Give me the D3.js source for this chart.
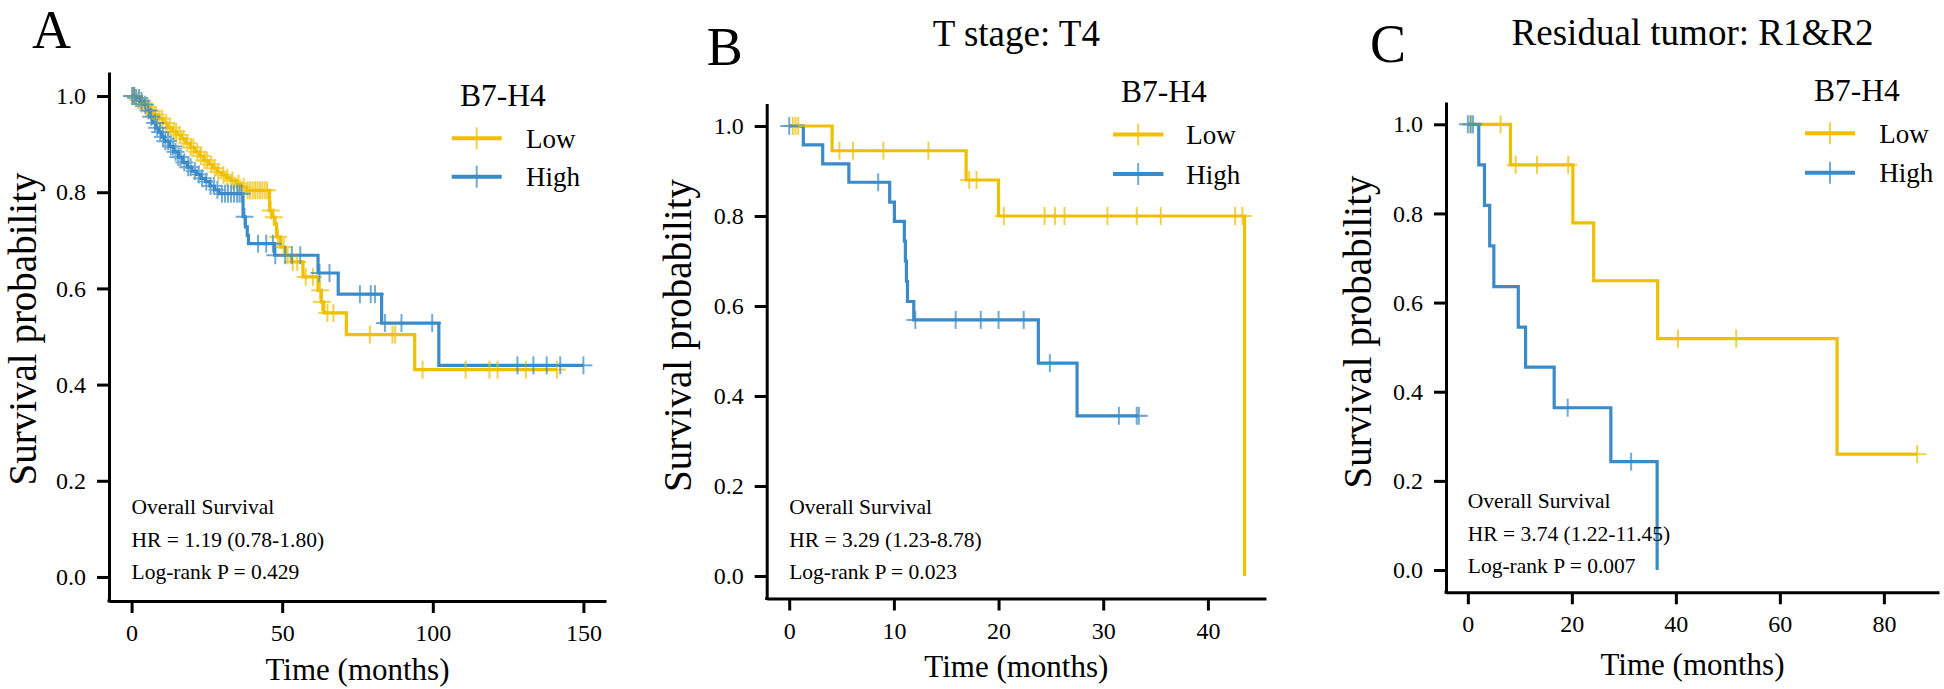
<!DOCTYPE html>
<html><head><meta charset="utf-8">
<script src="https://cdn.jsdelivr.net/npm/d3@7"></script>
<style>
body{margin:0;background:#fff}
svg{display:block}
text{font-family:"Liberation Serif","Times New Roman",serif;fill:#000}
</style>
</head><body>
<svg id="chart" width="1944" height="689"></svg>
<script>
// ---------------- DATA ----------------
const groups = ["Low", "High"];
const legendTitle = "B7-H4";
const panelLetters = ["A", "B", "C"];
const panelTitles = ["", "T stage: T4", "Residual tumor: R1&R2"];
const yTicks = [0, 0.2, 0.4, 0.6, 0.8, 1.0];
const xTicksA = [0, 50, 100, 150];
const xTicksB = [0, 10, 20, 30, 40];
const xTicksC = [0, 20, 40, 60, 80];
const statsA = ["Overall Survival", "HR = 1.19 (0.78-1.80)", "Log-rank P = 0.429"];
const statsB = ["Overall Survival", "HR = 3.29 (1.23-8.78)", "Log-rank P = 0.023"];
const statsC = ["Overall Survival", "HR = 3.74 (1.22-11.45)", "Log-rank P = 0.007"];

// step points [time (months), survival probability]
const aLowSteps = [[0,1],[1.5,0.992],[3,0.984],[4.5,0.976],[6,0.969],[7.5,0.961],[9,0.953],[10.5,0.944],
  [12,0.934],[13.5,0.926],[15,0.919],[16.5,0.911],[18,0.902],[19.5,0.893],[21,0.884],[22.5,0.875],
  [24,0.866],[25.5,0.858],[27,0.85],[28.5,0.842],[30,0.836],[31.5,0.83],[33,0.824],[34.8,0.818],
  [36.5,0.811],[38.1,0.804],[45.8,0.762],[46.6,0.748],[47.6,0.735],[48.1,0.707],[49.5,0.686],
  [51,0.669],[53,0.655],[56.9,0.624],[61.9,0.596],[63,0.572],[63.8,0.549],[71.3,0.504],[94,0.431]];
const aLowCens = [0.3,1,2.2,3.5,4.8,5.5,6.7,8,9.3,10.2,11.5,12.8,14,14.8,16,17.2,18.5,19.7,20.5,21.8,
  23,24.2,25,26.4,27.6,28.8,30.5,31.8,33.5,35.5,37.2,38.5,39.3,40.2,41,41.8,42.6,43.4,44.2,45,46.2,
  47.2,48.6,50.5,51.8,53.5,55,57.8,60.2,62.6,63.2,65,67,79.1,86.6,87.5,96.6,110.9,118.8,121.5,130.9,141.2];
const aHighSteps = [[0,1],[1.5,0.996],[3,0.99],[4,0.982],[5,0.97],[6,0.957],[7,0.944],[8,0.934],
  [9,0.925],[10,0.915],[11,0.906],[12.5,0.895],[14,0.884],[15.5,0.873],[17,0.862],[18.5,0.852],
  [20,0.844],[21.5,0.837],[23,0.829],[24.5,0.822],[26,0.813],[27.5,0.805],[29,0.797],[37,0.749],
  [37.8,0.728],[38.4,0.71],[38.8,0.693],[47.5,0.669],[61.9,0.632],[68.6,0.588],[83,0.528],[102,0.44]];
const aHighCens = [0.2,0.8,1.5,2.5,3.3,4.5,5.6,6.5,7.8,8.5,9.5,10.4,11.2,12.1,13,13.8,14.6,15.5,16.3,
  17.5,18.8,19.6,21,22.3,23.4,24.8,26.2,27.3,28.5,30,31,32,33,34,35,35.8,36.5,37.5,42,44.7,46.9,47.7,
  51,53.2,56,62.4,65.7,75.8,79.4,80.8,84.1,89.6,99.8,128.1,133.4,137.8,142.3,150];

const bLowSteps = [[0,1],[4.1,0.945],[16.9,0.88],[20,0.8],[43.5,0]];
const bLowCens = [0.35,0.6,0.86,4.8,6.1,9,13.3,17.2,17.9,20.5,24.4,25.4,26.3,30.4,33.2,35.5,42.6,43.3];
const bHighSteps = [[0,1],[1.35,0.958],[3.2,0.916],[5.7,0.875],[9.6,0.831],[10.05,0.788],[11,0.744],
  [11.1,0.7],[11.2,0.655],[11.3,0.61],[11.9,0.569],[23.8,0.473],[27.5,0.356]];
const bHighCens = [0,8.5,12.05,15.9,18.3,20,22.4,24.9,31.5,33.2,33.4];

const cLowSteps = [[0,1],[8.2,0.909],[20.2,0.779],[24.2,0.649],[36.5,0.519],[71,0.26]];
const cLowCens = [0.6,6.3,9.2,13.3,19.3,40.4,51.6,86.4];
const cHighSteps = [[0,1],[2.1,0.909],[3.2,0.818],[4.2,0.727],[5,0.636],[9.7,0.545],[11.1,0.455],
  [16.6,0.364],[27.5,0.243],[36.4,0]];
const cHighCens = [0,0.5,1,19.2,31.4];

// ---------------- LAYOUT ----------------
const colors = {Low: "#EFC000", High: "#3A8BC8"};
const panels = [
  {letter: panelLetters[0], title: panelTitles[0], stats: statsA, xTicks: xTicksA,
   series: {Low: [aLowSteps, aLowCens], High: [aHighSteps, aHighCens]},
   left: 109, right: 606, top: 72, bottom: 601, xDom: [-7.5, 157.5],
   letterX: 32, letterY: 48, titleY: 46, ylabX: 35.5, ylabY: 329, xlabY: 680,
   leg: {tx: 460, ty: 105.7, x0: 451.7, x1: 501.7, rows: [138.3, 176.7], lx: 526}},
  {letter: panelLetters[1], title: panelTitles[1], stats: statsB, xTicks: xTicksB,
   series: {Low: [bLowSteps, bLowCens], High: [bHighSteps, bHighCens]},
   left: 766.7, right: 1266, top: 103.5, bottom: 598.5, xDom: [-2.15, 45.55],
   letterX: 706.7, letterY: 65, titleY: 46, ylabX: 691, ylabY: 335.5, xlabY: 677,
   leg: {tx: 1121, ty: 101.8, x0: 1113, x1: 1163.4, rows: [134.6, 174], lx: 1186.3}},
  {letter: panelLetters[2], title: panelTitles[2], stats: statsC, xTicks: xTicksC,
   series: {Low: [cLowSteps, cLowCens], High: [cHighSteps, cHighCens]},
   left: 1446, right: 1939, top: 102, bottom: 592.3, xDom: [-4.2, 90.6],
   letterX: 1370, letterY: 62, titleY: 45, ylabX: 1371, ylabY: 332, xlabY: 675,
   leg: {tx: 1814, ty: 100.7, x0: 1805, x1: 1855, rows: [133.3, 172.7], lx: 1879.3}}
];

const svg = d3.select("#chart");

function survAt(steps, t) {
  let s = steps[0][1];
  for (const p of steps) { if (p[0] <= t) s = p[1]; }
  return s;
}

panels.forEach(P => {
  const g = svg.append("g");
  const x = d3.scaleLinear().domain(P.xDom).range([P.left, P.right]);
  const y = d3.scaleLinear().domain([-0.05, 1.05]).range([P.bottom, P.top]);

  // axes
  const ya = g.append("g").attr("transform", `translate(${P.left},0)`)
    .call(d3.axisLeft(y).tickValues(yTicks).tickFormat(d3.format(".1f")).tickSize(12).tickSizeOuter(0).tickPadding(11));
  const xa = g.append("g").attr("transform", `translate(0,${P.bottom})`)
    .call(d3.axisBottom(x).tickValues(P.xTicks).tickFormat(d3.format("d")).tickSize(12).tickSizeOuter(0).tickPadding(11));
  [ya, xa].forEach(a => {
    a.select(".domain").attr("stroke", "#000").attr("stroke-width", 3);
    a.selectAll(".tick line").attr("stroke", "#000").attr("stroke-width", 3);
    a.selectAll(".tick text").attr("font-size", 24).attr("font-family", '"Liberation Serif",serif').attr("fill", "#000");
  });
  g.append("rect").attr("x", P.left - 1.5).attr("y", P.bottom - 1.5).attr("width", 3).attr("height", 3).attr("fill", "#000");

  // curves
  const line = d3.line().x(d => x(d[0])).y(d => y(d[1])).curve(d3.curveStepAfter);
  groups.forEach(grp => {
    const [steps, cens] = P.series[grp];
    const last = steps[steps.length - 1];
    const endT = Math.max(last[0], d3.max(cens));
    const pts = steps.concat([[endT, last[1]]]);
    g.append("path").datum(pts).attr("d", line)
      .attr("fill", "none").attr("stroke", colors[grp]).attr("stroke-width", 3.2);
  });
  groups.forEach(grp => {
    const [steps, cens] = P.series[grp];
    const cg = g.append("g").attr("stroke", colors[grp]).attr("stroke-width", 2).attr("opacity", 0.72);
    cens.forEach(t => {
      const cx = x(t), cy = y(survAt(steps, t));
      cg.append("line").attr("x1", cx).attr("x2", cx).attr("y1", cy - 9).attr("y2", cy + 9);
      cg.append("line").attr("x1", cx - 9).attr("x2", cx + 9).attr("y1", cy).attr("y2", cy);
    });
  });

  // stats text
  const offs = [-70, -37, -5];
  P.stats.forEach((s, i) => {
    g.append("text").attr("x", x(0)).attr("y", y(0) + offs[i]).attr("dy", "0.35em")
      .attr("font-size", 21.5).text(s);
  });

  // axis titles
  g.append("text").attr("transform", `translate(${P.ylabX},${P.ylabY}) rotate(-90)`)
    .attr("text-anchor", "middle").attr("font-size", 39).text("Survival probability");
  g.append("text").attr("x", (P.left + P.right) / 2).attr("y", P.xlabY)
    .attr("text-anchor", "middle").attr("font-size", 31).text("Time (months)");

  // panel letter and title
  g.append("text").attr("x", P.letterX).attr("y", P.letterY).attr("font-size", 54).text(P.letter);
  if (P.title) g.append("text").attr("x", (P.left + P.right) / 2).attr("y", P.titleY)
    .attr("text-anchor", "middle").attr("font-size", 37).text(P.title);

  // legend
  const L = P.leg;
  g.append("text").attr("x", L.tx).attr("y", L.ty).attr("font-size", 31.5).text(legendTitle);
  groups.forEach((grp, i) => {
    const ry = L.rows[i];
    g.append("line").attr("x1", L.x0).attr("x2", L.x1).attr("y1", ry).attr("y2", ry)
      .attr("stroke", colors[grp]).attr("stroke-width", 4);
    const mx = (L.x0 + L.x1) / 2;
    g.append("line").attr("x1", mx).attr("x2", mx).attr("y1", ry - 11).attr("y2", ry + 11)
      .attr("stroke", colors[grp]).attr("stroke-width", 2).attr("opacity", 0.72);
    g.append("text").attr("x", L.lx).attr("y", ry + 9.5).attr("font-size", 27).text(grp);
  });
});
</script>
</body></html>
